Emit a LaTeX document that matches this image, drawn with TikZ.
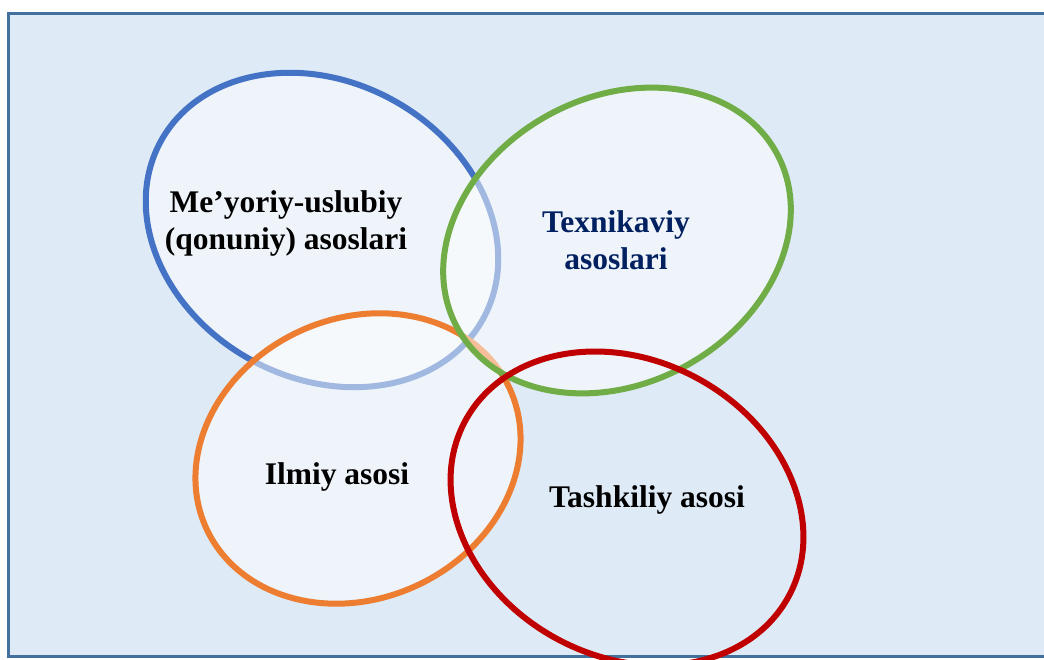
\documentclass[tikz,border=0pt]{standalone}
\usepackage{fontspec}
\setmainfont{Liberation Serif}
\definecolor{paneFill}{HTML}{DEEAF6}
\definecolor{paneEdge}{HTML}{41719C}
\definecolor{ringBlue}{HTML}{4472C4}
\definecolor{ringGreen}{HTML}{70AD47}
\definecolor{ringOrange}{HTML}{ED7D31}
\definecolor{ringRed}{HTML}{C00000}
\definecolor{navyText}{HTML}{002060}
\begin{document}
\begin{tikzpicture}[x=1pt,y=1pt,
  pane/.style={fill=paneFill, draw=paneEdge, line width=3pt},
  ring/.style={line width=6pt, fill=white, fill opacity=0.5},
  openring/.style={line width=6pt},
  lbl/.style={font=\fontsize{31.5}{37}\selectfont\bfseries, align=center, inner sep=0pt, anchor=base}]
\useasboundingbox (0,0) rectangle (1044,660);
\begin{scope}
  \clip (0,0) rectangle (1044,660);
  \draw[pane] (8,646) rectangle (1052,3);
  % overlapping rings, lower ones softened by the translucent fills above them
  \draw[ring, draw=ringBlue, rotate around={-29:(322,430)}]
    (322,430) ellipse [x radius=184, y radius=148];
  \draw[ring, draw=ringOrange, rotate around={25:(358,201.5)}]
    (358,201.5) ellipse [x radius=167, y radius=140];
  \draw[ring, draw=ringGreen, rotate around={28.7:(617,419.5)}]
    (617,419.5) ellipse [x radius=182, y radius=143];
  \draw[openring, draw=ringRed, rotate around={-28.6:(627,151.5)}]
    (627,151.5) ellipse [x radius=184, y radius=148];
\end{scope}
% labels (base anchor sits on the last line)
\node[lbl] (normative) at (286,410) {Me’yoriy-uslubiy\\(qonuniy) asoslari};
\node[lbl, text=navyText] (technical) at (616,390) {Texnikaviy\\asoslari};
\node[lbl] (scientific) at (337,175) {Ilmiy asosi};
\node[lbl] (organisational) at (647,152) {Tashkiliy asosi};
\end{tikzpicture}
\end{document}
